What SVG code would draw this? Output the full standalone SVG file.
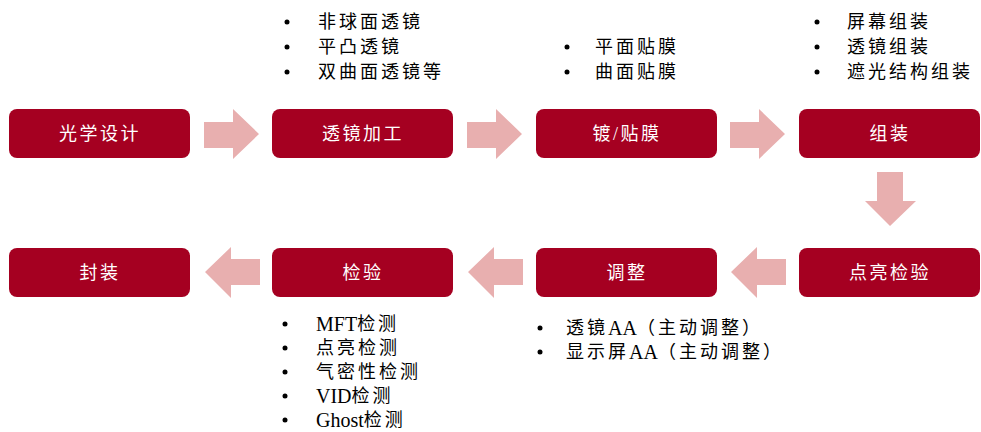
<svg xmlns="http://www.w3.org/2000/svg" width="981" height="432" viewBox="0 0 981 432">
<style>
.box{fill:#A50021}
.lbl{fill:#fff;font-family:"Liberation Serif","Noto Sans CJK SC",serif;font-size:18px;letter-spacing:2.5px;text-anchor:middle;dominant-baseline:central}
.arr{fill:#E8AFAF}
.li{fill:#000;font-family:"Liberation Serif","Noto Sans CJK SC",serif;font-size:18px;letter-spacing:3px;dominant-baseline:central}
.lat{font-size:20px;letter-spacing:0}
.dot{fill:#000}
</style>
<rect width="981" height="432" fill="#fff"/>
<g id="connectors">
<polygon class="arr" points="204,122 233,122 233,109 259,134 233,159 233,148 204,148"/>
<polygon class="arr" points="467,122 496,122 496,109 522,134 496,159 496,148 467,148"/>
<polygon class="arr" points="730,122 759,122 759,109 785,134 759,159 759,148 730,148"/>
<polygon class="arr" points="877,172 903,172 903,201 916,201 890,226 865,201 877,201"/>
<polygon class="arr" points="786,259 757,259 757,247 731,272 757,298 757,285 786,285"/>
<polygon class="arr" points="523,259 494,259 494,247 468,272 494,298 494,285 523,285"/>
<polygon class="arr" points="260,259 231,259 231,247 205,272 231,298 231,285 260,285"/>
</g>
<g id="n1"><rect class="box" x="9" y="109" width="181" height="49" rx="8"/><text class="lbl" x="100" y="134">光学设计</text></g>
<g id="n2"><rect class="box" x="272" y="109" width="181" height="49" rx="8"/><text class="lbl" x="363" y="134">透镜加工</text></g>
<g id="n3"><rect class="box" x="536" y="109" width="181" height="49" rx="8"/><text class="lbl" x="627" y="134">镀/贴膜</text></g>
<g id="n4"><rect class="box" x="799" y="109" width="181" height="49" rx="8"/><text class="lbl" x="890" y="134">组装</text></g>
<g id="n5"><rect class="box" x="799" y="248" width="181" height="49" rx="8"/><text class="lbl" x="890" y="273">点亮检验</text></g>
<g id="n6"><rect class="box" x="536" y="248" width="181" height="49" rx="8"/><text class="lbl" x="627" y="273">调整</text></g>
<g id="n7"><rect class="box" x="272" y="248" width="181" height="49" rx="8"/><text class="lbl" x="363" y="273">检验</text></g>
<g id="n8"><rect class="box" x="9" y="248" width="181" height="49" rx="8"/><text class="lbl" x="100" y="273">封装</text></g>
<g id="list-lens">
<circle class="dot" cx="287" cy="22" r="2.5"/><text class="li" x="318" y="22">非球面透镜</text>
<circle class="dot" cx="287" cy="47" r="2.5"/><text class="li" x="318" y="47">平凸透镜</text>
<circle class="dot" cx="287" cy="72" r="2.5"/><text class="li" x="318" y="72">双曲面透镜等</text>
</g>
<g id="list-film">
<circle class="dot" cx="567" cy="47" r="2.5"/><text class="li" x="595" y="47">平面贴膜</text>
<circle class="dot" cx="567" cy="72" r="2.5"/><text class="li" x="595" y="72">曲面贴膜</text>
</g>
<g id="list-assembly">
<circle class="dot" cx="817" cy="22" r="2.5"/><text class="li" x="847" y="22">屏幕组装</text>
<circle class="dot" cx="817" cy="47" r="2.5"/><text class="li" x="847" y="47">透镜组装</text>
<circle class="dot" cx="817" cy="72" r="2.5"/><text class="li" x="847" y="72">遮光结构组装</text>
</g>
<g id="list-adjust">
<circle class="dot" cx="540" cy="328" r="2.5"/><text class="li" x="566" y="328">透镜<tspan class="lat">AA</tspan>（主动调整）</text>
<circle class="dot" cx="540" cy="352" r="2.5"/><text class="li" x="566" y="352">显示屏<tspan class="lat">AA</tspan>（主动调整）</text>
</g>
<g id="list-inspect">
<circle class="dot" cx="285" cy="324" r="2.5"/><text class="li" x="316" y="324"><tspan class="lat">MFT</tspan>检测</text>
<circle class="dot" cx="285" cy="348" r="2.5"/><text class="li" x="316" y="348">点亮检测</text>
<circle class="dot" cx="285" cy="372" r="2.5"/><text class="li" x="316" y="372">气密性检测</text>
<circle class="dot" cx="285" cy="396" r="2.5"/><text class="li" x="316" y="396"><tspan class="lat">VID</tspan>检测</text>
<circle class="dot" cx="285" cy="420" r="2.5"/><text class="li" x="316" y="420"><tspan class="lat">Ghost</tspan>检测</text>
</g>
</svg>
